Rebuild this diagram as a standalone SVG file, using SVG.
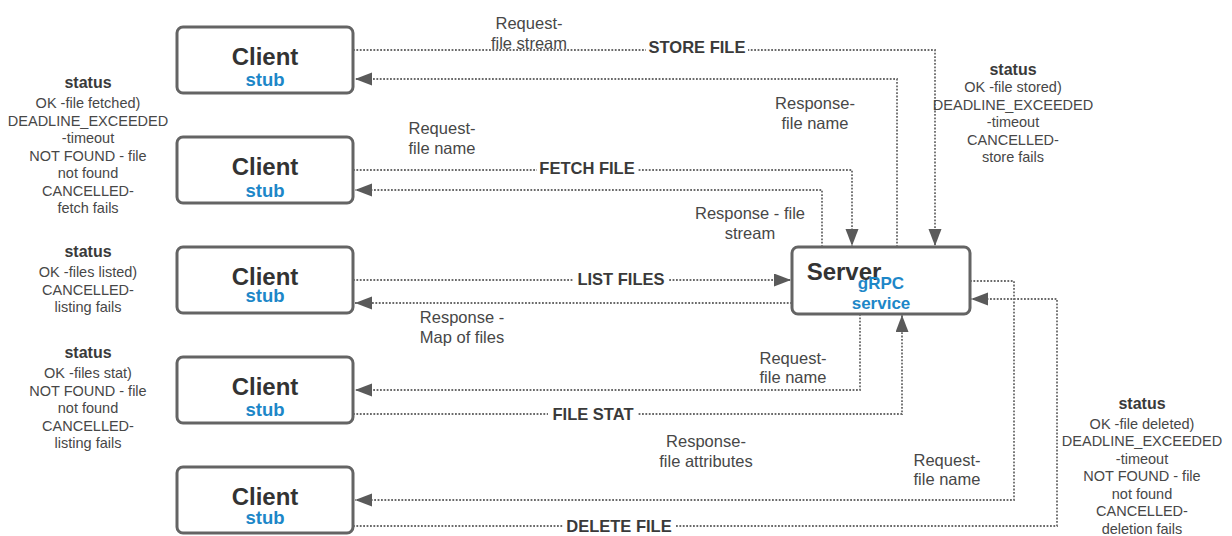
<svg xmlns="http://www.w3.org/2000/svg" width="1232" height="536" viewBox="0 0 1232 536">
  <style>
    .box { fill: #ffffff; stroke: #646464; stroke-width: 3; }
    .link { fill: none; stroke: #6a6a6a; stroke-width: 1.8; stroke-dasharray: 1.8 1.6; }
    .arrow { marker-end: url(#head); }
    .title { font-family: "Liberation Sans", Arial, sans-serif; font-weight: bold; font-size: 24px; fill: #333333; text-anchor: middle; }
    .sub { font-family: "Liberation Sans", Arial, sans-serif; font-weight: bold; font-size: 18.5px; fill: #1d87c8; text-anchor: middle; }
    .svc { font-family: "Liberation Sans", Arial, sans-serif; font-weight: bold; font-size: 17px; fill: #1d87c8; text-anchor: middle; }
    .op { font-family: "Liberation Sans", Arial, sans-serif; font-weight: bold; font-size: 16.5px; fill: #3a3a3a; text-anchor: middle; }
    .lbl { font-family: "Liberation Sans", Arial, sans-serif; font-size: 16.5px; fill: #474747; text-anchor: middle; }
    .st { font-family: "Liberation Sans", Arial, sans-serif; font-size: 14.5px; fill: #474747; text-anchor: middle; }
    .sth { font-family: "Liberation Sans", Arial, sans-serif; font-weight: bold; font-size: 16px; fill: #3a3a3a; text-anchor: middle; }
    .mask { fill: #ffffff; }
  </style>
  <defs>
    <marker id="head" markerUnits="userSpaceOnUse" markerWidth="18" markerHeight="14" refX="17" refY="6.5" orient="auto">
      <path d="M0,0 L17,6.5 L0,13 Z" fill="#5a5a5a"/>
    </marker>
  </defs>

  <!-- connectors -->
  <g id="connectors">
    <!-- store file -->
    <path class="link arrow" d="M353,50 H935 V246"/>
    <path class="link arrow" d="M897,247 V79 H355"/>
    <!-- fetch file -->
    <path class="link arrow" d="M353,170 H852 V246"/>
    <path class="link arrow" d="M822,247 V190 H355"/>
    <!-- list files -->
    <path class="link arrow" d="M353,280 H791"/>
    <path class="link arrow" d="M792,303 H355"/>
    <!-- file stat -->
    <path class="link arrow" d="M860,314 V390 H355"/>
    <path class="link arrow" d="M353,414 H902 V315"/>
    <!-- delete file -->
    <path class="link arrow" d="M970,281 H1014 V500 H355"/>
    <path class="link arrow" d="M353,526 H1057 V299 H971"/>

    <!-- operation names sit on the request lines -->
    <rect class="mask" x="646" y="40" width="102" height="20"/>
    <text class="op" x="697" y="53">STORE FILE</text>
    <rect class="mask" x="537" y="160" width="100" height="20"/>
    <text class="op" x="587" y="174">FETCH FILE</text>
    <rect class="mask" x="574" y="270" width="94" height="20"/>
    <text class="op" x="621" y="285">LIST FILES</text>
    <rect class="mask" x="548" y="404" width="90" height="20"/>
    <text class="op" x="593" y="420">FILE STAT</text>
    <rect class="mask" x="563" y="516" width="112" height="20"/>
    <text class="op" x="619" y="532">DELETE FILE</text>

    <!-- message labels -->
    <text class="lbl" x="529" y="28.5">Request-</text>
    <text class="lbl" x="529" y="48.5">file stream</text>
    <text class="lbl" x="815" y="109">Response-</text>
    <text class="lbl" x="815" y="129">file name</text>
    <text class="lbl" x="442" y="134">Request-</text>
    <text class="lbl" x="442" y="154">file name</text>
    <text class="lbl" x="750" y="219">Response - file</text>
    <text class="lbl" x="750" y="239">stream</text>
    <text class="lbl" x="462" y="323">Response -</text>
    <text class="lbl" x="462" y="343">Map of files</text>
    <text class="lbl" x="793" y="364">Request-</text>
    <text class="lbl" x="793" y="383">file name</text>
    <text class="lbl" x="706" y="447">Response-</text>
    <text class="lbl" x="706" y="467">file attributes</text>
    <text class="lbl" x="947" y="466">Request-</text>
    <text class="lbl" x="947" y="485">file name</text>
  </g>

  <!-- clients -->
  <g id="client-store">
    <rect class="box" x="177" y="27" width="176" height="66" rx="6"/>
    <text class="title" x="265" y="65">Client</text>
    <text class="sub" x="265" y="86">stub</text>
  </g>
  <g id="client-fetch">
    <rect class="box" x="177" y="137" width="176" height="66" rx="6"/>
    <text class="title" x="265" y="175">Client</text>
    <text class="sub" x="265" y="197">stub</text>
  </g>
  <g id="client-list">
    <rect class="box" x="177" y="247" width="176" height="66" rx="6"/>
    <text class="title" x="265" y="285">Client</text>
    <text class="sub" x="265" y="302">stub</text>
  </g>
  <g id="client-stat">
    <rect class="box" x="177" y="357" width="176" height="66" rx="6"/>
    <text class="title" x="265" y="395">Client</text>
    <text class="sub" x="265" y="416">stub</text>
  </g>
  <g id="client-delete">
    <rect class="box" x="177" y="467" width="176" height="66" rx="6"/>
    <text class="title" x="265" y="505">Client</text>
    <text class="sub" x="265" y="524">stub</text>
  </g>

  <!-- server -->
  <g id="server">
    <rect class="box" x="792" y="247" width="178" height="67" rx="6"/>
    <text class="title" x="844" y="280">Server</text>
    <text class="svc" x="881" y="289">gRPC</text>
    <text class="svc" x="881" y="309">service</text>
  </g>

  <!-- status notes -->
  <g id="status-store">
    <text class="sth" x="1013" y="75">status</text>
    <text class="st" x="1013" y="92">OK -file stored)</text>
    <text class="st" x="1013" y="109.5">DEADLINE_EXCEEDED</text>
    <text class="st" x="1013" y="127">-timeout</text>
    <text class="st" x="1013" y="144.5">CANCELLED-</text>
    <text class="st" x="1013" y="162">store fails</text>
  </g>
  <g id="status-fetch">
    <text class="sth" x="88" y="88">status</text>
    <text class="st" x="88" y="108">OK -file fetched)</text>
    <text class="st" x="88" y="125.5">DEADLINE_EXCEEDED</text>
    <text class="st" x="88" y="143">-timeout</text>
    <text class="st" x="88" y="160.5">NOT FOUND - file</text>
    <text class="st" x="88" y="178">not found</text>
    <text class="st" x="88" y="195.5">CANCELLED-</text>
    <text class="st" x="88" y="213">fetch fails</text>
  </g>
  <g id="status-list">
    <text class="sth" x="88" y="257">status</text>
    <text class="st" x="88" y="277">OK -files listed)</text>
    <text class="st" x="88" y="294.5">CANCELLED-</text>
    <text class="st" x="88" y="312">listing fails</text>
  </g>
  <g id="status-stat">
    <text class="sth" x="88" y="358">status</text>
    <text class="st" x="88" y="378">OK -files stat)</text>
    <text class="st" x="88" y="395.5">NOT FOUND - file</text>
    <text class="st" x="88" y="413">not found</text>
    <text class="st" x="88" y="430.5">CANCELLED-</text>
    <text class="st" x="88" y="448">listing fails</text>
  </g>
  <g id="status-delete">
    <text class="sth" x="1142" y="409">status</text>
    <text class="st" x="1142" y="428.5">OK -file deleted)</text>
    <text class="st" x="1142" y="446">DEADLINE_EXCEEDED</text>
    <text class="st" x="1142" y="463.5">-timeout</text>
    <text class="st" x="1142" y="481">NOT FOUND - file</text>
    <text class="st" x="1142" y="498.5">not found</text>
    <text class="st" x="1142" y="516">CANCELLED-</text>
    <text class="st" x="1142" y="533.5">deletion fails</text>
  </g>
</svg>
